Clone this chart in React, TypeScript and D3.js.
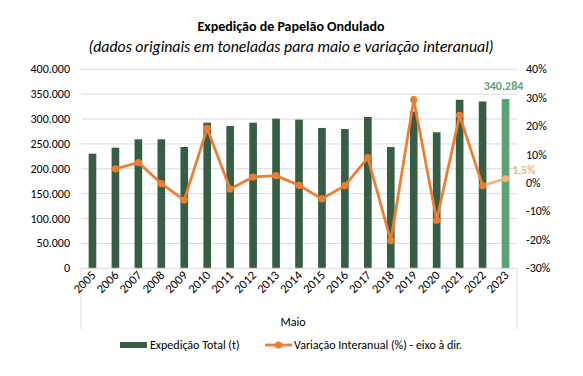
import React from "react";
import * as d3 from "d3";

const years = ["2005","2006","2007","2008","2009","2010","2011","2012","2013","2014","2015","2016","2017","2018","2019","2020","2021","2022","2023"];
const expedicao = [230400, 242500, 259300, 259300, 243900, 292700, 286100, 292700, 300800, 298800, 282100, 280000, 304200, 243900, 315200, 273400, 338800, 335300, 340284];
const variacao: (number | null)[] = [null, 0.050, 0.072, -0.002, -0.060, 0.192, -0.021, 0.021, 0.026, -0.008, -0.056, -0.009, 0.089, -0.203, 0.293, -0.131, 0.238, -0.009, 0.015];
const leftTicks = [0, 50000, 100000, 150000, 200000, 250000, 300000, 350000, 400000];
const rightTicks = [-0.3, -0.2, -0.1, 0, 0.1, 0.2, 0.3, 0.4];

const FONT = "Carlito, Lato, 'Open Sans', sans-serif";
const DARK = "#375E44";
const LIGHT_BAR = "#5AA46F";
const ORANGE = "#ED7D31";
const LIGHT_OR = "#F4B183";
const GRID = "#D9D9D9";

const fmtThousands = (v: number) => d3.format(",")(v).replace(/,/g, ".");
const fmtPct = (v: number) => `${Math.round(v * 100)}%`;

export default function App() {
  const W = 583, H = 376;
  const left = 81, right = 517, top = 69.3, bottom = 268.3;
  const x = d3.scaleBand<string>().domain(years).range([left, right]).paddingInner(0).paddingOuter(0);
  const bw = x.bandwidth() / 3;
  const yL = d3.scaleLinear().domain([0, 400000]).range([bottom, top]);
  const yR = d3.scaleLinear().domain([-0.3, 0.4]).range([bottom, top]);
  const cx = (y: string) => (x(y) as number) + x.bandwidth() / 2;

  const pts = years.map((yr, i) => ({ yr, v: variacao[i], i })).filter(d => d.v !== null) as { yr: string; v: number; i: number }[];
  const line = d3.line<{ yr: string; v: number }>().x(d => cx(d.yr)).y(d => yR(d.v));
  const n = years.length;
  const mainPts = pts.filter(d => d.i < n - 1);
  const lastSeg = pts.filter(d => d.i >= n - 2);
  const last = n - 1;

  return (
    <svg width={W} height={H} style={{ position: "absolute", left: 0, top: 0, background: "#fff" }} fontFamily={FONT}>
      <rect x={0} y={0} width={W} height={H} fill="#fff" />
      <text x={291} y={31} textAnchor="middle" fontSize={14} fontWeight="bold" fill="#000">Expedição de Papelão Ondulado</text>
      <text x={291} y={52} textAnchor="middle" fontSize={15.8} fontStyle="italic" fill="#000">(dados originais em toneladas para maio e variação interanual)</text>

      {leftTicks.map(t => (
        <g key={"g" + t}>
          {t > 0 && <line x1={left} x2={right} y1={yL(t)} y2={yL(t)} stroke={GRID} strokeWidth={1} />}
          <text x={70} y={yL(t) + 4} textAnchor="end" fontSize={12} fill="#000">{fmtThousands(t)}</text>
        </g>
      ))}
      {rightTicks.map(t => (
        <text key={"r" + t} x={526} y={yR(t) + 4} textAnchor="start" fontSize={12} fill="#000">{fmtPct(t)}</text>
      ))}

      {years.map((yr, i) => (
        <rect key={yr} x={cx(yr) - bw / 2} y={yL(expedicao[i])} width={bw} height={bottom - yL(expedicao[i])} fill={i === last ? LIGHT_BAR : DARK} />
      ))}

      <line x1={left} x2={right} y1={bottom} y2={bottom} stroke={GRID} strokeWidth={1} />
      <line x1={left} x2={left} y1={bottom} y2={329} stroke={GRID} strokeWidth={1} />
      <line x1={right} x2={right} y1={bottom} y2={329} stroke={GRID} strokeWidth={1} />

      {years.map(yr => (
        <text key={"x" + yr} transform={`translate(${cx(yr) + 4},${276}) rotate(-45)`} textAnchor="end" fontSize={12.5} fill="#000">{yr}</text>
      ))}
      <text x={293} y={326} textAnchor="middle" fontSize={12} fill="#000">Maio</text>

      <path d={line(mainPts) || ""} fill="none" stroke={ORANGE} strokeWidth={2.75} strokeLinejoin="round" />
      <path d={line(lastSeg) || ""} fill="none" stroke={LIGHT_OR} strokeWidth={2.75} />
      {pts.map(d => (
        <circle key={"c" + d.yr} cx={cx(d.yr)} cy={yR(d.v)} r={3.6} fill={d.i === last ? LIGHT_OR : ORANGE} />
      ))}

      <text x={cx(years[last]) - 2} y={yL(expedicao[last]) - 9.5} textAnchor="middle" fontSize={12} fontWeight="bold" fill={LIGHT_BAR}>{fmtThousands(expedicao[last])}</text>
      <text x={cx(years[last]) + 7} y={yR(variacao[last] as number) - 5} textAnchor="start" fontSize={11.5} fontWeight="bold" fill={LIGHT_OR}>{(variacao[last] as number * 100).toFixed(1).replace(".", ",") + "%"}</text>

      <rect x={120} y={342} width={27} height={6} fill={DARK} />
      <text x={150} y={349} fontSize={12} fill="#000">Expedição Total (t)</text>
      <line x1={265} x2={292} y1={345} y2={345} stroke={ORANGE} strokeWidth={2.75} />
      <circle cx={278.5} cy={345} r={3.6} fill={ORANGE} />
      <text x={294} y={349} fontSize={12} fill="#000">Variação Interanual (%) - eixo à dir.</text>
    </svg>
  );
}
